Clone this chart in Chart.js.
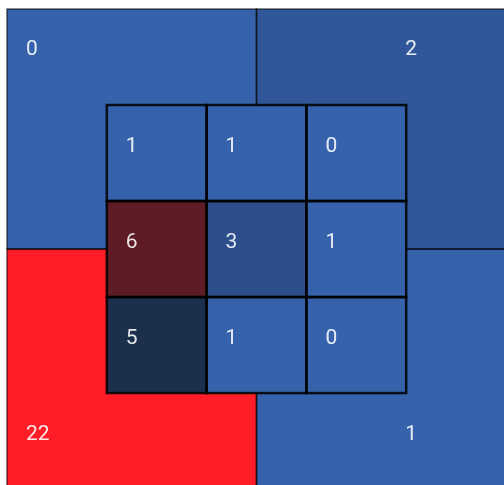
<!DOCTYPE html>
<html>
<head>
<meta charset="utf-8">
<script src="https://cdn.jsdelivr.net/npm/chart.js@4/dist/chart.umd.min.js"></script>
<style>
  html, body { margin: 0; padding: 0; background: #fff; }
  canvas { display: block; }
</style>
</head>
<body>
<canvas id="grid" width="504" height="485"></canvas>
<script>
// outer 2x2 grid (rows top to bottom)
const outerRows = [0, 1];
const outerCols = [0, 1];
const outerValues = [
    [0, 2],
    [22, 1]
];
// inner 3x3 grid laid over the middle
const innerRows = [0, 1, 2];
const innerCols = [0, 1, 2];
const innerValues = [
    [1, 1, 0],
    [6, 3, 1],
    [5, 1, 0]
];

const outerColors = [
    ['#3562ab', '#30579a'],
    ['#ff1e28', '#3562ab']
];
const innerColors = [
    ['#3562ab', '#3562ab', '#3562ab'],
    ['#5e1d24', '#2c4e8b', '#3562ab'],
    ['#1c2f4d', '#3562ab', '#3562ab']
];

const OUTER_SIZE = 1;
const INNER_SIZE = 0.4;
const INNER_START = 0.4;

function toPoints(rows, cols, values, start, size) {
    const pts = [];
    rows.forEach(r => {
        cols.forEach(c => {
            pts.push({ x: start + (c + 0.5) * size, y: start + (r + 0.5) * size, v: values[r][c], r, c });
        });
    });
    return pts;
}

const cellPlugin = {
    id: 'cells',
    beforeDatasetsDraw(chart) {
        const ctx = chart.ctx;
        const xs = chart.scales.x, ys = chart.scales.y;
        const innerRight = xs.getPixelForValue(INNER_START + innerCols.length * INNER_SIZE);
        const innerBottom = ys.getPixelForValue(INNER_START + innerRows.length * INNER_SIZE);

        chart.data.datasets.forEach(ds => {
            const half = ds.cellSize / 2;
            const rects = ds.data.map(p => ({
                p,
                x0: xs.getPixelForValue(p.x - half),
                x1: xs.getPixelForValue(p.x + half),
                y0: ys.getPixelForValue(p.y - half),
                y1: ys.getPixelForValue(p.y + half)
            }));
            ctx.save();
            rects.forEach(({ p, x0, x1, y0, y1 }) => {
                ctx.fillStyle = ds.cellColors[p.r][p.c];
                ctx.fillRect(x0, y0, x1 - x0, y1 - y0);
            });
            // borders centred on cell edges so shared edges stay one line
            ctx.strokeStyle = ds.cellBorder;
            ctx.lineWidth = ds.cellBorderWidth;
            rects.forEach(({ x0, x1, y0, y1 }) => {
                ctx.strokeRect(x0, y0, x1 - x0, y1 - y0);
            });
            ctx.fillStyle = 'rgba(255,255,255,0.88)';
            ctx.font = '21px Roboto';
            ctx.textAlign = 'left';
            ctx.textBaseline = 'middle';
            rects.forEach(({ p, x0, y0 }) => {
                let tx = x0 + 19, ty = y0 + 42;
                if (ds.outer) {
                    tx = p.c === 0 ? x0 + 19 : innerRight - 1;
                    ty = p.r === 0 ? y0 + 41 : innerBottom + 42;
                }
                ctx.fillText(String(p.v), tx, ty);
            });
            ctx.restore();
        });
    }
};

new Chart(document.getElementById('grid'), {
    type: 'scatter',
    data: {
        datasets: [
            {
                label: 'outer',
                data: toPoints(outerRows, outerCols, outerValues, 0, OUTER_SIZE),
                cellSize: OUTER_SIZE,
                cellColors: outerColors,
                cellBorder: 'rgba(0,0,0,0.6)',
                cellBorderWidth: 1.5,
                outer: true,
                pointRadius: 0
            },
            {
                label: 'inner',
                data: toPoints(innerRows, innerCols, innerValues, INNER_START, INNER_SIZE),
                cellSize: INNER_SIZE,
                cellColors: innerColors,
                cellBorder: 'rgba(0,0,0,0.85)',
                cellBorderWidth: 2.5,
                outer: false,
                pointRadius: 0
            }
        ]
    },
    options: {
        responsive: false,
        animation: false,
        layout: { padding: { left: 7, top: 9, right: 0, bottom: 0 } },
        plugins: { legend: { display: false }, tooltip: { enabled: false } },
        scales: {
            // the grid runs a little past the right and bottom edges of the canvas
            x: { type: 'linear', min: 0, max: 1.992, display: false },
            y: { type: 'linear', min: 0, max: 1.983, reverse: true, display: false }
        }
    },
    plugins: [cellPlugin]
});
</script>
</body>
</html>
